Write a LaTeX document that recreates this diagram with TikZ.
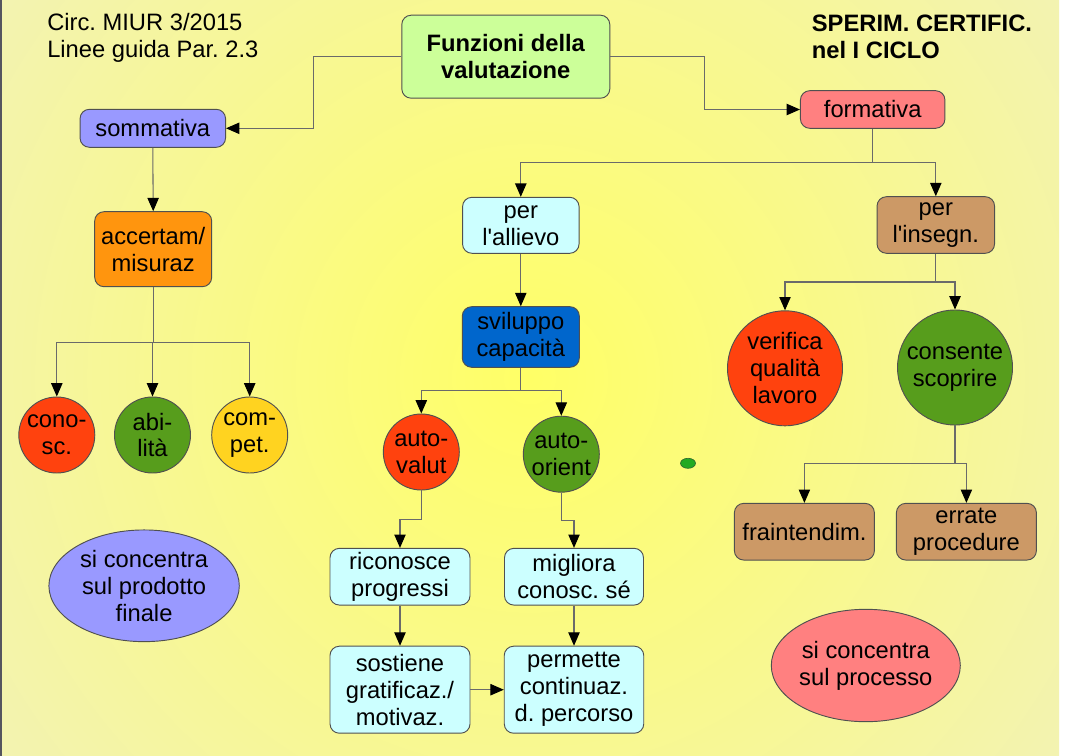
\documentclass[tikz,border=0pt]{standalone}
\usepackage{fontspec}
\newfontfamily\lsans{Liberation Sans}
\usetikzlibrary{arrows.meta,shapes.geometric,calc}
\frenchspacing
\definecolor{bgyel}{RGB}{255,255,102}
\definecolor{bglav}{RGB}{230,230,252}
\definecolor{bord}{HTML}{505050}
\definecolor{lgray}{HTML}{6A6A6A}
\definecolor{cfun}{HTML}{CCFF99}
\definecolor{csom}{HTML}{9999FF}
\definecolor{cform}{HTML}{FF8080}
\definecolor{ccyan}{HTML}{CCFFFF}
\definecolor{cbrown}{HTML}{CC9966}
\definecolor{corange}{HTML}{FF950E}
\definecolor{cblue}{HTML}{0066CC}
\definecolor{cred}{HTML}{FF420E}
\definecolor{cgreen}{HTML}{579D1C}
\definecolor{cyel}{HTML}{FFD320}
\definecolor{dotg}{HTML}{22AA22}
\definecolor{dotd}{HTML}{2E6B2E}
\definecolor{edge}{HTML}{55555F}
\pgfdeclareradialshading{bgrad}{\pgfpoint{0bp}{0bp}}{color(0bp)=(bgyel); color(50bp)=(bglav)}
\newcommand\tsz{\fontsize{17.8}{20.2}\selectfont}
\tikzset{
  txt/.style={font=\lsans\tsz, align=center, inner sep=0pt, text=black},
  bold/.style={font=\lsans\bfseries\tsz},
  rbox/.style 2 args={txt, draw=bord, line width=0.7pt, rounded corners=7pt,
    minimum width={#1*0.75pt}, minimum height={#2*0.75pt}},
  rnd/.style={txt, circle, draw=bord, line width=0.7pt, inner sep=-3pt, minimum size={#1*0.75pt}},
  ell/.style 2 args={txt, ellipse, draw=bord, line width=0.7pt, inner sep=-5pt,
    minimum width={#1*0.75pt}, minimum height={#2*0.75pt}},
  conn/.style={draw=lgray, line width=0.8pt},
  arr/.style={conn, -{Triangle[length=10pt,width=8.5pt,color=black]}}
}
\begin{document}
\begin{tikzpicture}[x=0.75pt,y=-0.75pt]
\useasboundingbox (0,0) rectangle (1067,756);
\fill[white] (0,0) rectangle (1067,756);
\begin{scope}
  \clip (0,0) rectangle (1059,756);
  \shade[shading=bgrad] (529.5,378) circle (651);
\end{scope}
\fill[edge] (0,0) rectangle (2,756);

% header texts
\node[txt, anchor=west, align=left] (circ) at (47,37.5) {Circ. MIUR 3/2015\\Linee guida Par. 2.3};
\node[txt, bold, anchor=west, align=left] (sper) at (811.6,36.5) {SPERIM. CERTIFIC.\\nel I CICLO};

% nodes
\node[rbox={208}{83}, fill=cfun, bold] (fun) at (505.8,56.7) {Funzioni della\\valutazione};
\node[rbox={145.5}{38}, fill=csom] (som) at (152.8,128.3) {sommativa};
\node[rbox={144.5}{37.6}, fill=cform] (form) at (872.7,109.5) {formativa};
\node[rbox={116.5}{56}, fill=ccyan] (all) at (520.8,225.3) {per\\l'allievo};
\node[rbox={117.5}{56.6}, fill=cbrown] (ins) at (935.8,225) {per\\l'insegn.};
\node[rbox={117}{75}, fill=corange] (acc) at (153.2,249.2) {accertam/\\misuraz};
\node[rbox={117}{60.6}, fill=cblue] (svi) at (520.8,337) {sviluppo\\capacità};

\node[rnd=76, fill=cred] (cono) at (56.8,435) {cono-\\sc.};
\node[rnd=76, fill=cgreen] (abi) at (152.5,435) {abi-\\lità};
\node[rnd=76, fill=cyel] (comp) at (249.7,435) {com-\\pet.};
\node[rnd=76, fill=cred] (av) at (421.3,452) {auto-\\valut};
\node[rnd=76, fill=cgreen] (ao) at (561.3,454.2) {auto-\\orient};
\node[rnd=115, fill=cred] (ver) at (785,368.3) {verifica\\qualità\\lavoro};
\node[rnd=115, fill=cgreen] (cons) at (955,367.5) {consente\\scoprire};

\node[rbox={140}{56.7}, fill=cbrown] (fra) at (804.4,531.7) {fraintendim.};
\node[rbox={140}{56.7}, fill=cbrown] (err) at (966.4,531.7) {errate\\procedure};
\node[rbox={140}{56.7}, fill=ccyan] (ric) at (400,576.7) {riconosce\\progressi};
\node[rbox={139}{56.7}, fill=ccyan] (mig) at (574,576.7) {migliora\\conosc. sé};
\node[rbox={140}{87}, fill=ccyan] (sos) at (400,689.7) {sostiene\\gratificaz./\\motivaz.};
\node[rbox={139.5}{87}, fill=ccyan] (perm) at (574,689.7) {permette\\continuaz.\\d. percorso};

\node[ell={190.4}{111.7}, fill=csom] (prod) at (144.1,585.8) {si concentra\\sul prodotto\\finale};
\node[ell={189}{112.4}, fill=cform] (proc) at (865.8,665.5) {si concentra\\sul processo};

\node[ellipse, draw=dotd, line width=0.5pt, fill=dotg, inner sep=0pt,
  minimum width={15*0.75pt}, minimum height={10*0.75pt}] (dot) at (688,463.3) {};

% connectors
\coordinate (jl) at (313.4,0);
\coordinate (jr) at (704.7,0);
\draw[arr] (fun.west) -| (jl |- som.east) -- (som.east);
\draw[arr] (fun.east) -| (jr |- form.west) -- (form.west);

\draw[arr] (som.south) -- (acc.north);
\coordinate (ja) at (0,342.7);
\draw[conn] (acc.south) -- (acc.south |- ja);
\draw[arr] (acc.south |- ja) -| (cono.north);
\draw[arr] (acc.south |- ja) -| (abi.north);
\draw[arr] (acc.south |- ja) -| (comp.north);

\coordinate (jf) at (0,162.5);
\draw[conn] (form.south) -- (form.south |- jf);
\draw[arr] (form.south |- jf) -| (all.north);
\draw[arr] (form.south |- jf) -| (ins.north);

\draw[arr] (all.south) -- (svi.north);
\coordinate (js) at (0,390.7);
\draw[conn] (svi.south) -- (svi.south |- js);
\draw[arr] (svi.south |- js) -| (av.north);
\draw[arr] (svi.south |- js) -| (ao.north);

\draw[arr] (av.south) |- ($(av.south)!.5!(ric.north)$) -| (ric.north);
\draw[arr] (ao.south) |- ($(ao.south)!.5!(mig.north)$) -| (mig.north);
\draw[arr] (ric.south) -- (sos.north);
\draw[arr] (mig.south) -- (perm.north);
\draw[arr] (sos.east) -- (perm.west);

\coordinate (ji) at (0,282);
\draw[conn] (ins.south) -- (ins.south |- ji);
\draw[arr] (ins.south |- ji) -| (ver.north);
\draw[arr] (ins.south |- ji) -| (cons.north);

\coordinate (jc) at (0,463.3);
\draw[conn] (cons.south) -- (cons.south |- jc);
\draw[arr] (cons.south |- jc) -| (fra.north);
\draw[arr] (cons.south |- jc) -| (err.north);
\end{tikzpicture}
\end{document}
